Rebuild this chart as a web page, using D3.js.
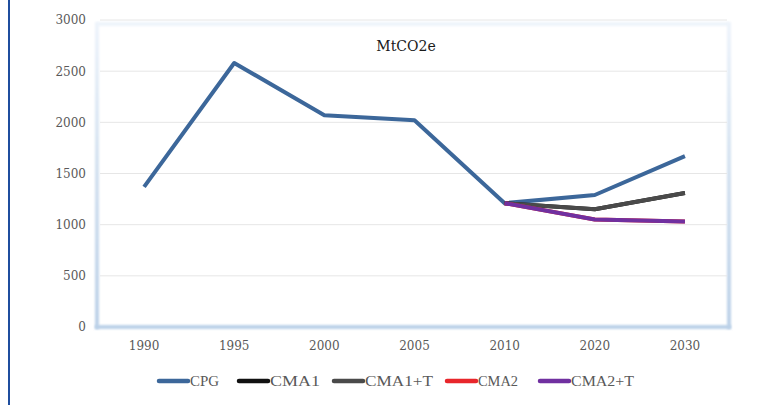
<!DOCTYPE html>
<html><head><meta charset="utf-8">
<script src="https://cdn.jsdelivr.net/npm/d3@7"></script>
<style>body{margin:0;background:#fff}svg{display:block}</style>
</head><body>
<svg id="c" width="771" height="405"></svg>
<script>
const categories = ["1990","1995","2000","2005","2010","2020","2030"];
const yTicks = [0,500,1000,1500,2000,2500,3000];
const seriesNames = ["CPG","CMA1","CMA1+T","CMA2","CMA2+T"];
const seriesColors = ["#3c679a","#111111","#4a4a4a","#e8262b","#7030a0"];
const cpg    = [1370,2580,2070,2020,1210,1290,1670];
const cma1   = [null,null,null,null,1210,1150,1310];
const cma1t  = [null,null,null,null,1210,1150,1310];
const cma2   = [null,null,null,null,1210,1050,1030];
const cma2t  = [null,null,null,null,1210,1050,1030];
const seriesValues = [cpg,cma1,cma1t,cma2,cma2t];

const svg = d3.select("#c");
const L=99, R=730, T=20, B=327;
const x = d3.scaleBand().domain(categories).range([L,R]);
const y = d3.scaleLinear().domain([0,3000]).range([B,T]);

// page border line
svg.append("line").attr("x1",9).attr("x2",9).attr("y1",0).attr("y2",405)
  .attr("stroke","#1f4e9e").attr("stroke-width",2);

// wall frame
const defs = svg.append("defs");
const f = defs.append("filter").attr("id","blur").attr("filterUnits","userSpaceOnUse")
  .attr("x",0).attr("y",0).attr("width",771).attr("height",405);
f.append("feGaussianBlur").attr("stdDeviation",1);
const g = defs.append("linearGradient").attr("id","wall")
  .attr("gradientUnits","userSpaceOnUse").attr("x1",0).attr("y1",22).attr("x2",0).attr("y2",327);
g.append("stop").attr("offset",0).attr("stop-color","#eef4fb");
g.append("stop").attr("offset",0.5).attr("stop-color","#d3e1f0");
g.append("stop").attr("offset",1).attr("stop-color","#bcd1e8");
svg.append("path").attr("d","M97,24 H729").attr("stroke","#eef4fb").attr("stroke-width",4).attr("filter","url(#blur)");
[97,729].forEach(xx=>svg.append("rect").attr("x",xx-2).attr("y",22).attr("width",4).attr("height",307)
  .attr("fill","url(#wall)").attr("filter","url(#blur)"));
svg.append("path").attr("d","M95,327 H731").attr("stroke","#bcd1e8").attr("stroke-width",4).attr("filter","url(#blur)");

// gridlines
svg.append("g").selectAll("line").data(yTicks.filter(d=>d>0)).join("line")
  .attr("x1",100).attr("x2",727).attr("y1",d=>y(d)).attr("y2",d=>y(d))
  .attr("stroke","#e6e6e6").attr("stroke-width",1);

// y axis
const ya = svg.append("g").attr("transform",`translate(86,0)`)
  .call(d3.axisLeft(y).tickValues(yTicks).tickFormat(d3.format("d")).tickSize(0).tickPadding(0));
ya.select(".domain").remove();
ya.selectAll("text").attr("font-family","'DejaVu Serif', serif").attr("font-size",12).attr("fill","#595959");

// x axis
const xa = svg.append("g").attr("transform",`translate(0,${B+14})`)
  .call(d3.axisBottom(x).tickSize(0).tickPadding(0));
xa.select(".domain").remove();
xa.selectAll("text").attr("font-family","'DejaVu Serif', serif").attr("font-size",12).attr("fill","#595959").attr("dy","0.71em");

// title
svg.append("text").attr("x",406).attr("y",51).attr("text-anchor","middle")
  .attr("font-family","'DejaVu Serif', serif").attr("font-size",14).attr("fill","#1a1a1a").text("MtCO2e");

// lines
const line = d3.line().defined(d=>d.v!=null).x(d=>x(d.c)+x.bandwidth()/2).y(d=>y(d.v));
seriesValues.forEach((vals,i)=>{
  svg.append("path").datum(categories.map((c,j)=>({c,v:vals[j]})))
    .attr("d",line).attr("fill","none").attr("stroke",seriesColors[i])
    .attr("stroke-width",4).attr("stroke-linejoin","round");
});

// legend
const legX = [159,239,334,447,540];
const legW = [29,50,68,40,63];
const lg = svg.append("g");
seriesNames.forEach((n,i)=>{
  lg.append("line").attr("x1",legX[i]).attr("x2",legX[i]+29).attr("y1",381).attr("y2",381)
    .attr("stroke",seriesColors[i]).attr("stroke-width",4.5).attr("stroke-linecap","round");
  lg.append("text").attr("x",legX[i]+31).attr("y",386)
    .attr("font-family","'Liberation Serif', serif").attr("font-size",15).attr("fill","#595959")
    .attr("textLength",legW[i]).attr("lengthAdjust","spacingAndGlyphs").text(n);
});
</script>
</body></html>
